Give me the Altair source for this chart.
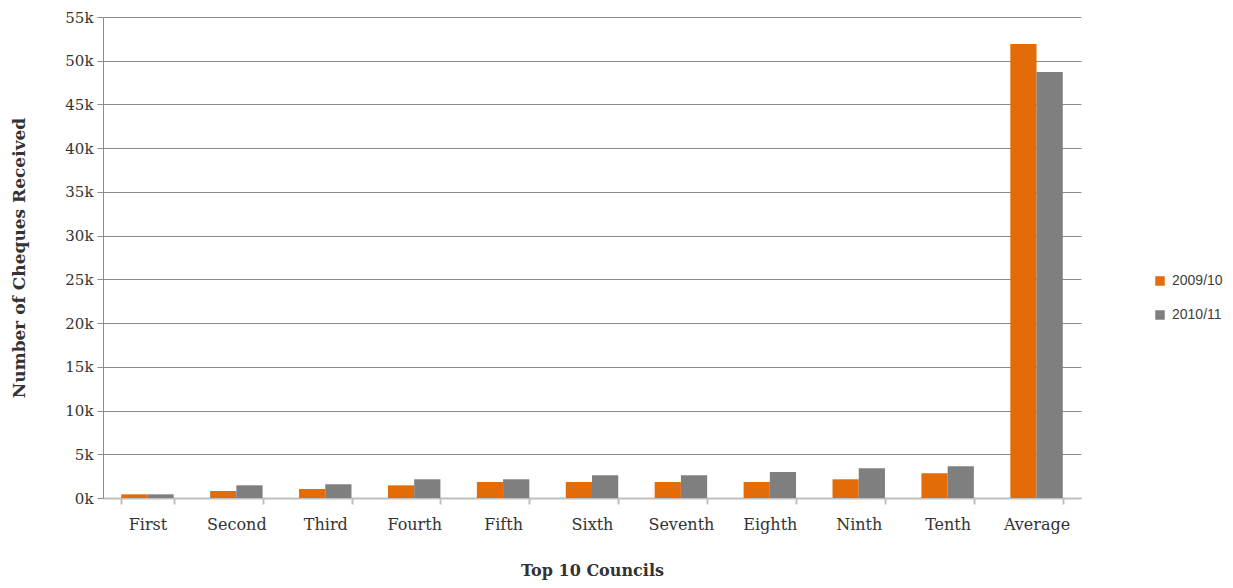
import altair as alt
import pandas as pd

categories = ["First", "Second", "Third", "Fourth", "Fifth", "Sixth",
              "Seventh", "Eighth", "Ninth", "Tenth", "Average"]
series_2009 = [420, 800, 1030, 1450, 1830, 1830, 1830, 1830, 2140, 2830, 51900]
series_2010 = [420, 1450, 1570, 2140, 2140, 2600, 2600, 2970, 3400, 3630, 48700]
series_names = ["2009/10", "2010/11"]
colors = ["#E36C09", "#7F7F7F"]

rows = []
for c, a, b in zip(categories, series_2009, series_2010):
    rows.append({"council": c, "year": series_names[0], "value": a})
    rows.append({"council": c, "year": series_names[1], "value": b})
df = pd.DataFrame(rows)

serif = "DejaVu Serif"

chart = alt.Chart(df).mark_bar().encode(
    x=alt.X("council:N", sort=categories,
            scale=alt.Scale(paddingInner=0.41, paddingOuter=0.205),
            axis=alt.Axis(title="Top 10 Councils", labelAngle=0,
                          tickBand="extent", labelPadding=12, tickSize=6,
                          domainColor="#BFBFBF", domainWidth=2,
                          tickColor="#BFBFBF", tickWidth=2,
                          labelFont=serif, labelFontSize=16, labelColor="#333333",
                          titleFont=serif, titleFontSize=16, titleFontWeight="bold",
                          titleColor="#333333", titlePadding=30)),
    xOffset=alt.XOffset("year:N", sort=series_names,
                        scale=alt.Scale(paddingInner=0, paddingOuter=0)),
    y=alt.Y("value:Q", scale=alt.Scale(domain=[0, 55000], nice=False),
            axis=alt.Axis(title="Number of Cheques Received",
                          values=list(range(0, 55001, 5000)),
                          labelExpr="datum.value/1000 + 'k'",
                          grid=True, gridColor="#8C8C8C", gridWidth=1,
                          domainColor="#8C8C8C", tickColor="#8C8C8C", tickSize=6,
                          labelPadding=4,
                          labelFont=serif, labelFontSize=15, labelColor="#333333",
                          titleFont=serif, titleFontSize=17, titleFontWeight="bold",
                          titleColor="#333333", titlePadding=36)),
    color=alt.Color("year:N", sort=series_names,
                    scale=alt.Scale(domain=series_names, range=colors),
                    legend=alt.Legend(title=None, orient="none", legendX=1050, legendY=257,
                                      symbolType="square", symbolSize=90,
                                      symbolStrokeWidth=0,
                                      labelFont="Liberation Sans", labelFontSize=14,
                                      labelColor="#404040", rowPadding=20,
                                      labelOffset=5)),
).properties(
    width=978, height=481,
    autosize=alt.AutoSizeParams(type="none"),
    padding={"left": 95, "top": 9, "right": 144, "bottom": 82},
).configure_view(stroke=None)

chart.save("out.html", embed_options={"renderer": "svg", "actions": False})
